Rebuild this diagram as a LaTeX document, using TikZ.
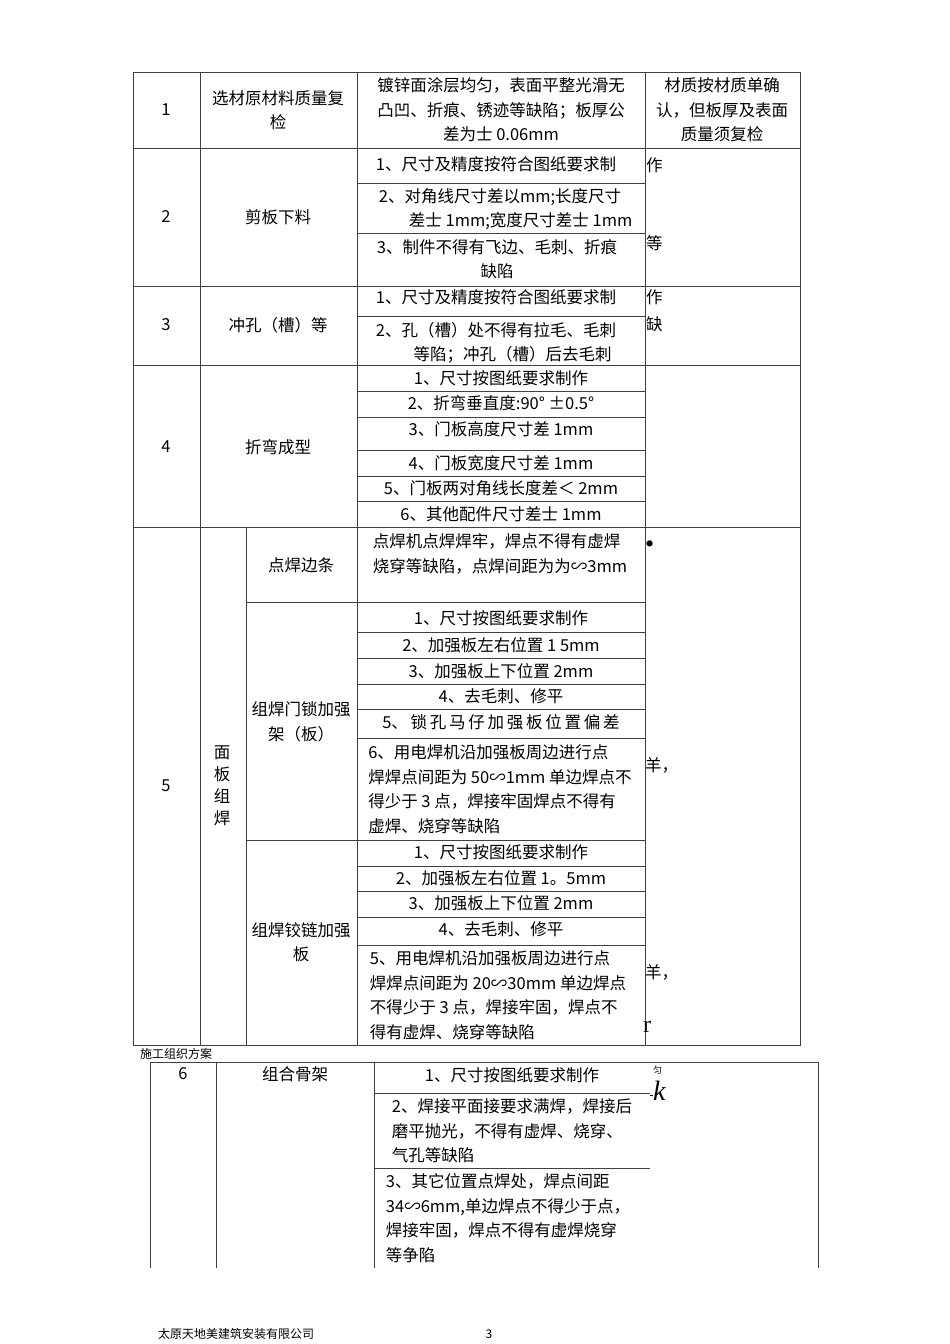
\documentclass[tikz,border=0pt]{standalone}
\usepackage{fontspec}
\newfontfamily\cjk{Noto Sans CJK SC}
\newfontfamily\lserif{Liberation Serif}
\tikzset{
 cell/.style={font=\cjk\fontsize{16.5}{24.5}\selectfont, align=center, inner sep=0pt},
 lcell/.style={cell, align=left},
 small/.style={font=\cjk\fontsize{12}{13}\selectfont, inner sep=0pt},
 rule/.style={draw=black!75, line width=0.7pt}
}
\begin{document}
\begin{tikzpicture}[x=1pt,y=-1pt]
\useasboundingbox (0,0) rectangle (950,1344);
% table 1 frame
\draw[rule] (133,72) rectangle (800,1045);
\foreach \x in {200,357,645} \draw[rule] (\x,72) -- (\x,1045);
\draw[rule] (246,527) -- (246,1045);
\foreach \y in {148,286,365,527} \draw[rule] (133,\y) -- (800,\y);
\foreach \y in {183,233,316,391,417,450,476,501,632,658,684,709,738,866,891,917,945} \draw[rule] (357,\y) -- (645,\y);
\draw[rule] (246,602) -- (645,602);
\draw[rule] (246,840) -- (645,840);
% row 1
\node[cell] (n1) at (166,110) {1};
\node[cell] (t1) at (278,110) {选材原材料质量复\\检};
\node[cell] (r1) at (501,110) {镀锌面涂层均匀，表面平整光滑无\\凸凹、折痕、锈迹等缺陷；板厚公\\差为士 0.06mm};
\node[cell] (q1) at (722,110) {材质按材质单确\\认，但板厚及表面\\质量须复检};
% row 2
\node[cell] (n2) at (166,217) {2};
\node[cell] (t2) at (278,217) {剪板下料};
\node[cell] (r21) at (496,164) {1、尺寸及精度按符合图纸要求制};
\node[cell] (r22) at (500,209) {2、对角线尺寸差以mm;长度尺寸\\\hspace*{2.5em}差士 1mm;宽度尺寸差士 1mm};
\node[cell] (r23) at (497,259) {3、制件不得有飞边、毛刺、折痕\\缺陷};
\node[cell,anchor=west] (q21) at (646,165) {作};
\node[cell,anchor=west] (q22) at (646,243) {等};
% row 3
\node[cell] (n3) at (166,325) {3};
\node[cell] (t3) at (278,325) {冲孔（槽）等};
\node[cell] (r31) at (496,297) {1、尺寸及精度按符合图纸要求制};
\node[cell] (r32) at (496,343) {2、孔（槽）处不得有拉毛、毛刺\\\hspace*{2em}等陷；冲孔（槽）后去毛刺};
\node[cell,anchor=west] (q31) at (646,297) {作};
\node[cell,anchor=west] (q32) at (646,324) {缺};
% row 4
\node[cell] (n4) at (166,447) {4};
\node[cell] (t4) at (278,447) {折弯成型};
\node[cell] (r41) at (501,378) {1、尺寸按图纸要求制作};
\node[cell] (r42) at (501,403) {2、折弯垂直度:90° ±0.5°};
\node[cell] (r43) at (501,429) {3、门板高度尺寸差 1mm};
\node[cell] (r44) at (501,463) {4、门板宽度尺寸差 1mm};
\node[cell] (r45) at (501,488) {5、门板两对角线长度差＜ 2mm};
\node[cell] (r46) at (501,514) {6、其他配件尺寸差士 1mm};
% row 5
\node[cell] (n5) at (166,786) {5};
\node[cell, font=\cjk\fontsize{16.5}{22}\selectfont] (t5) at (222,786) {面\\板\\组\\焊};
\node[cell] (s51) at (301,565) {点焊边条};
\node[lcell] (r51) at (500,554) {点焊机点焊焊牢，焊点不得有虚焊\\烧穿等缺陷，点焊间距为为∽3mm};
\node[anchor=west, inner sep=0pt, font=\lserif\fontsize{26}{26}\selectfont] (q51) at (645,547) {•};
\node[cell] (s52) at (301,722) {组焊门锁加强\\架（板）};
\node[cell] (r521) at (501,618) {1、尺寸按图纸要求制作};
\node[cell] (r522) at (501,645) {2、加强板左右位置 1 5mm};
\node[cell] (r523) at (501,671) {3、加强板上下位置 2mm};
\node[cell] (r524) at (501,696) {4、去毛刺、修平};
\node[cell] (r525) at (501,722) {5、\,锁\,孔\,马\,仔\,加\,强\,板\,位\,置\,偏\,差};
\node[lcell] (r526) at (500,789) {6、用电焊机沿加强板周边进行点\\焊焊点间距为 50∽1mm 单边焊点不\\得少于 3 点，焊接牢固焊点不得有\\虚焊、烧穿等缺陷};
\node[cell,anchor=west] (q52) at (645,765) {羊，};
\node[cell] (s53) at (301,942) {组焊铰链加强\\板};
\node[cell] (r531) at (501,852) {1、尺寸按图纸要求制作};
\node[cell] (r532) at (501,878) {2、加强板左右位置 1。5mm};
\node[cell] (r533) at (501,903) {3、加强板上下位置 2mm};
\node[cell] (r534) at (501,929) {4、去毛刺、修平};
\node[lcell] (r535) at (498,995) {5、用电焊机沿加强板周边进行点\\焊焊点间距为 20∽30mm 单边焊点\\不得少于 3 点，焊接牢固，焊点不\\得有虚焊、烧穿等缺陷};
\node[cell,anchor=west] (q53) at (645,972) {羊，};
\node[anchor=west, inner sep=0pt, font=\lserif\fontsize{24}{24}\selectfont] (q54) at (643,1027) {r};
% caption
\node[small, anchor=west] (cap) at (140,1054) {施工组织方案};
% table 2
\draw[rule] (150,1268) -- (150,1062) -- (818,1062) -- (818,1268);
\draw[rule] (216,1062) -- (216,1268);
\draw[rule] (374,1062) -- (374,1268);
\draw[rule] (374,1093) -- (650,1093);
\draw[rule] (374,1168) -- (650,1168);
\node[cell] (n6) at (183,1074) {6};
\node[cell] (t6) at (295,1074) {组合骨架};
\node[cell] (r61) at (512,1075) {1、尺寸按图纸要求制作};
\node[lcell] (r62) at (512,1131) {2、焊接平面接要求满焊，焊接后\\磨平抛光，不得有虚焊、烧穿、\\气孔等缺陷};
\node[lcell] (r63) at (508,1218) {3、其它位置点焊处，焊点间距\\34∽6mm,单边焊点不得少于点，\\焊接牢固，焊点不得有虚焊烧穿\\等争陷};
\node[small, font=\cjk\fontsize{9}{9}\selectfont, anchor=west] (q61) at (653,1070) {匀};
\node[anchor=west, inner sep=0pt, font=\lserif\itshape\fontsize{28}{28}\selectfont] (q62) at (650,1091) {\rule[0.2em]{3pt}{0.4pt}k};
% footer
\node[small, anchor=west] (foot) at (158,1334) {太原天地美建筑安装有限公司};
\node[small] (pg) at (489,1334) {3};
\end{tikzpicture}
\end{document}
